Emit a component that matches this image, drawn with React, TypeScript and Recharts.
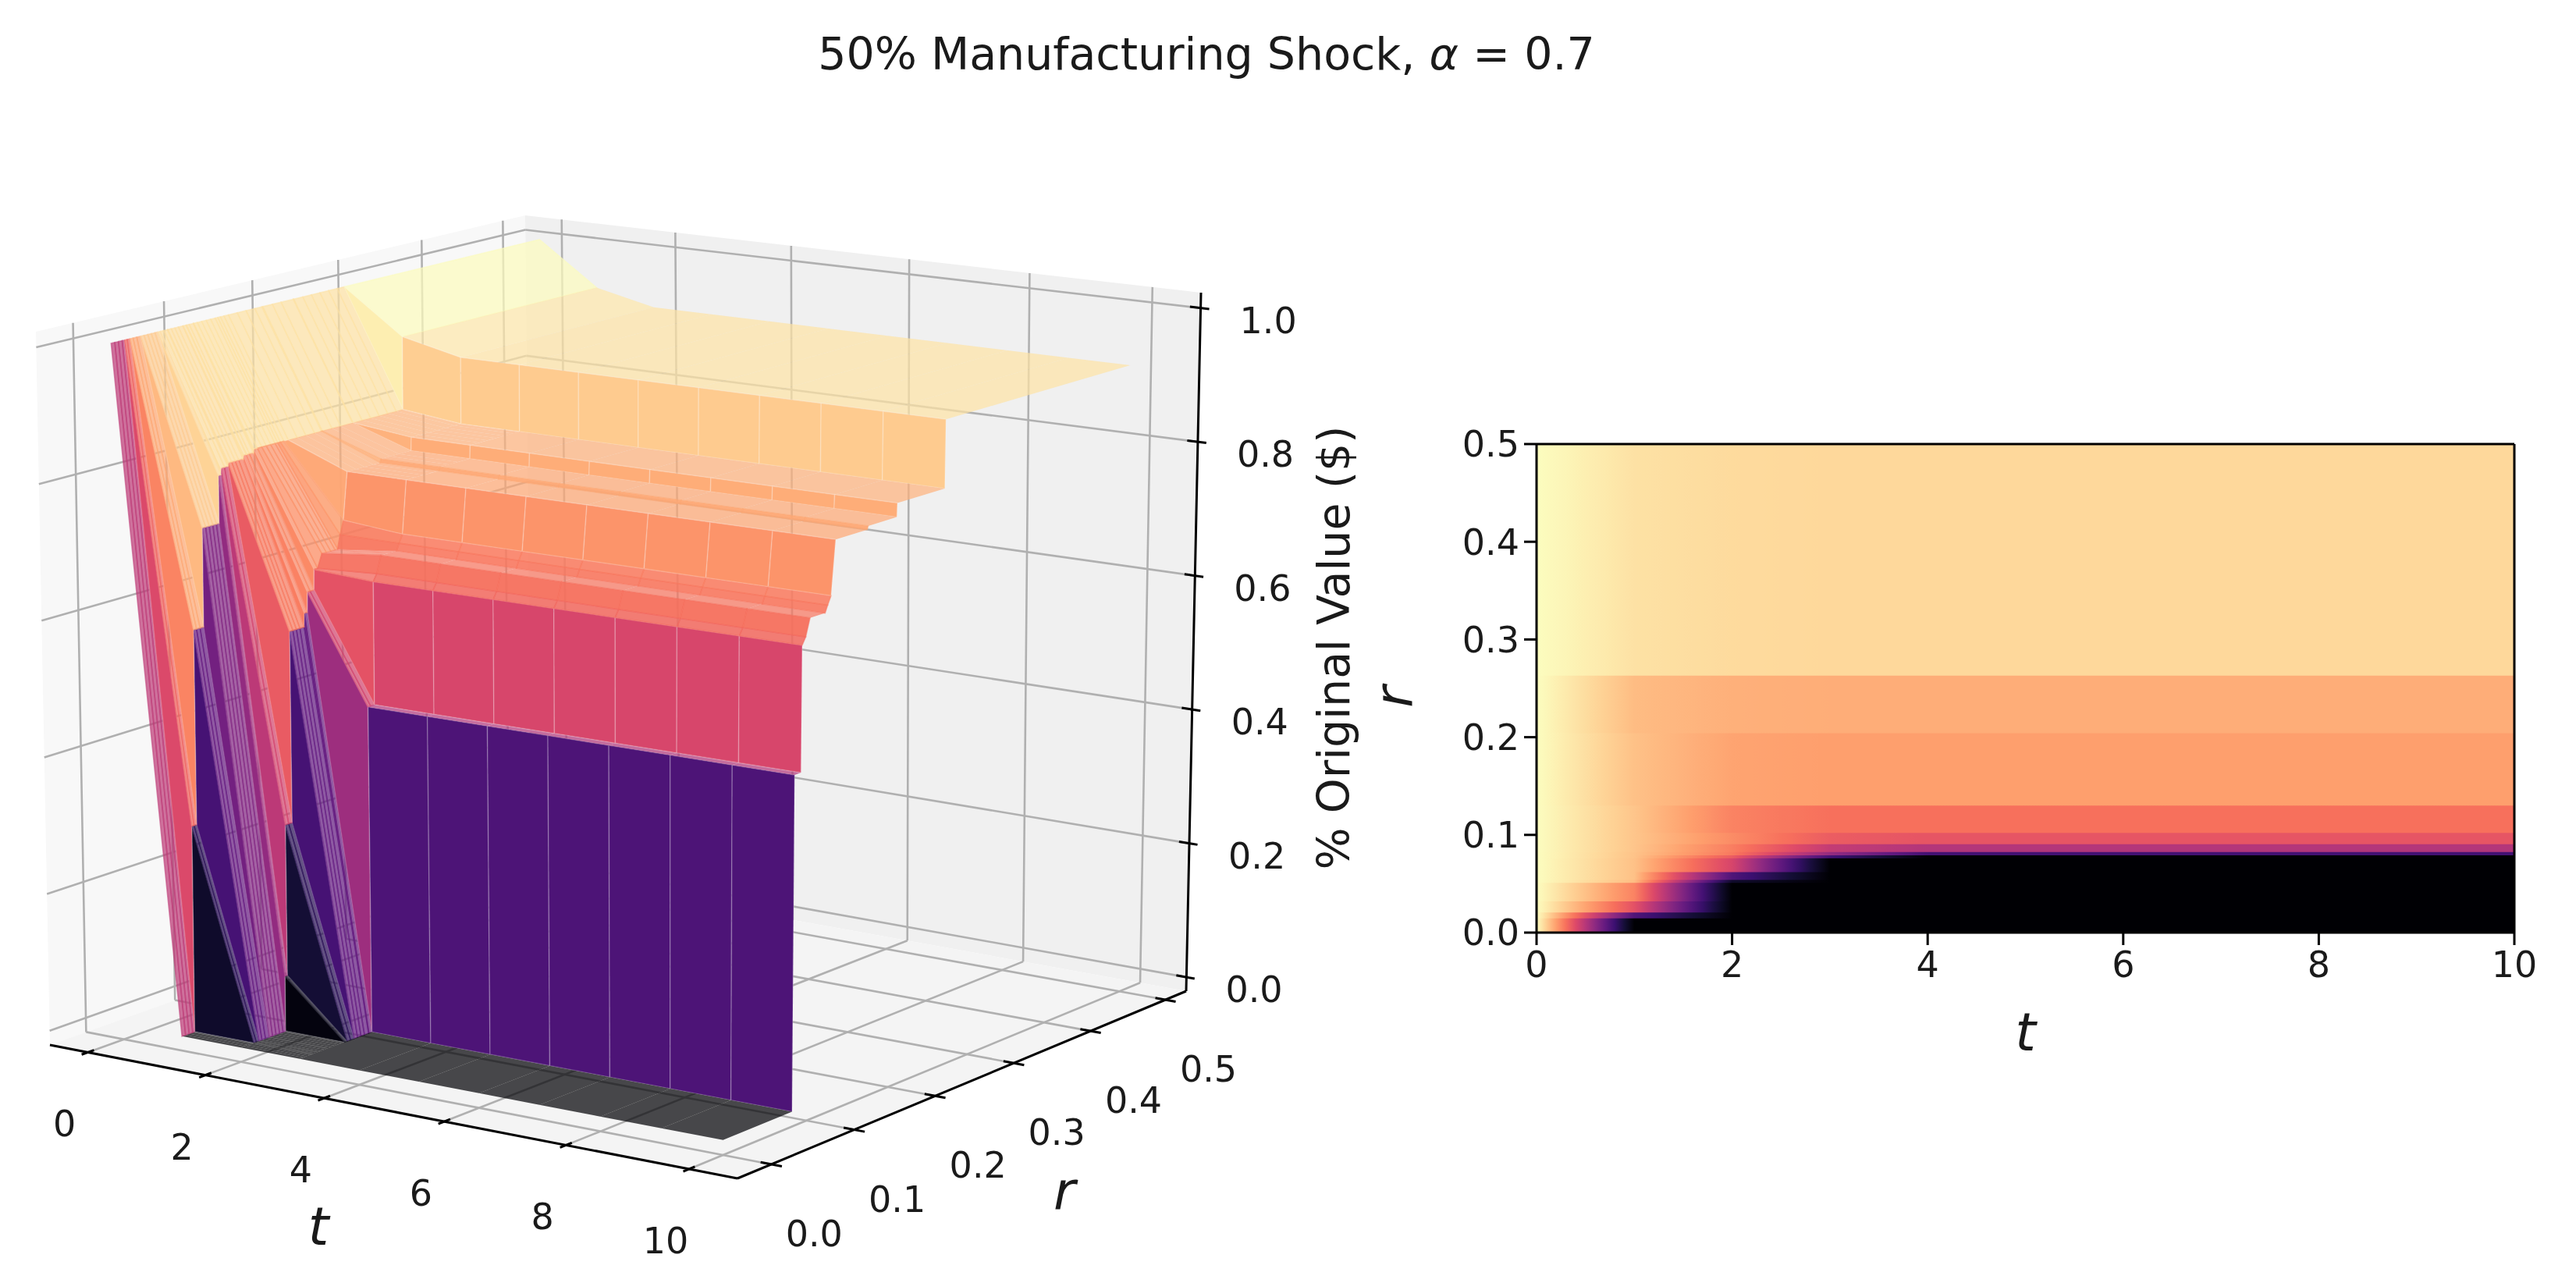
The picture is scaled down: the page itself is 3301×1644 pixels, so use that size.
import { Area, AreaChart, ReferenceLine, Scatter, ScatterChart, XAxis, YAxis } from 'recharts';

// ---- heatmap data ----
const tGrid = [0, 1, 2, 3, 4, 5, 6, 7, 8, 9, 10];
const rEdges = [0, 0.0146, 0.0205, 0.032, 0.051, 0.054, 0.062, 0.076, 0.079, 0.0825, 0.0905, 0.102, 0.13, 0.204, 0.263, 0.5];

const band00 = [1, 0, 0, 0, 0, 0, 0, 0, 0, 0, 0];
const band01 = [1, 0.25, 0, 0, 0, 0, 0, 0, 0, 0, 0];
const band02 = [1, 0.62, 0, 0, 0, 0, 0, 0, 0, 0, 0];
const band03 = [1, 0.74, 0, 0, 0, 0, 0, 0, 0, 0, 0];
const band04 = [1, 0.86, 0.08, 0, 0, 0, 0, 0, 0, 0, 0];
const band05 = [1, 0.87, 0.25, 0, 0, 0, 0, 0, 0, 0, 0];
const band06 = [1, 0.87, 0.58, 0, 0, 0, 0, 0, 0, 0, 0];
const band07 = [1, 0.875, 0.65, 0.22, 0, 0, 0, 0, 0, 0, 0];
const band08 = [1, 0.875, 0.72, 0.42, 0.22, 0.22, 0.22, 0.22, 0.22, 0.22, 0.22];
const band09 = [1, 0.88, 0.73, 0.53, 0.49, 0.49, 0.49, 0.49, 0.49, 0.49, 0.49];
const band10 = [1, 0.88, 0.76, 0.65, 0.63, 0.63, 0.63, 0.63, 0.63, 0.63, 0.63];
const band11 = [1, 0.88, 0.74, 0.7, 0.7, 0.7, 0.7, 0.7, 0.7, 0.7, 0.7];
const band12 = [1, 0.87, 0.81, 0.8, 0.8, 0.8, 0.8, 0.8, 0.8, 0.8, 0.8];
const band13 = [1, 0.86, 0.835, 0.83, 0.83, 0.83, 0.83, 0.83, 0.83, 0.83, 0.83];
const band14 = [1, 0.94, 0.925, 0.92, 0.92, 0.92, 0.92, 0.92, 0.92, 0.92, 0.92];
const bands = [band00, band01, band02, band03, band04, band05, band06, band07, band08, band09, band10, band11, band12, band13, band14];

// ---- surface rows: value at t=1, t=2 and from t=3 on (t=0 is 1) ----
const surfR = [0, 0.0142, 0.015, 0.0203, 0.0207, 0.0318, 0.0322, 0.0508, 0.0512, 0.0538, 0.0542, 0.0618, 0.0622, 0.0788, 0.0792, 0.0825, 0.0829, 0.0905, 0.0909, 0.095, 0.1, 0.118, 0.121, 0.125, 0.13, 0.168, 0.169, 0.204, 0.2045, 0.263, 0.2634, 0.5];
const surfT1 = [0, 0, 0.3, 0.3, 0.585, 0.585, 0.73, 0.73, 0.8, 0.8, 0.81, 0.81, 0.815, 0.815, 0.82, 0.82, 0.82, 0.82, 0.825, 0.825, 0.825, 0.825, 0.825, 0.825, 0.825, 0.825, 0.825, 0.825, 0.825, 0.825, 0.935, 0.935];
const surfT2 = [0, 0, 0, 0, 0, 0, 0, 0, 0.08, 0.08, 0.3, 0.3, 0.58, 0.58, 0.6, 0.6, 0.63, 0.63, 0.66, 0.66, 0.68, 0.68, 0.7, 0.72, 0.79, 0.79, 0.795, 0.795, 0.815, 0.815, 0.915, 0.915];
const surfPlateau = [0, 0, 0, 0, 0, 0, 0, 0, 0, 0, 0, 0, 0, 0, 0, 0, 0.475, 0.475, 0.655, 0.665, 0.69, 0.69, 0.7, 0.712, 0.79, 0.79, 0.795, 0.795, 0.815, 0.815, 0.915, 0.915];
// mesh lines of the plotted grid that fall inside the rows above
const meshR = [0.004, 0.008, 0.012, 0.0175, 0.024, 0.028, 0.036, 0.04, 0.044, 0.048, 0.058, 0.066, 0.07, 0.074, 0.086, 0.105, 0.11, 0.115, 0.14, 0.15, 0.16, 0.18, 0.19, 0.215, 0.225, 0.235, 0.245, 0.255];

const tTicks = [0, 2, 4, 6, 8, 10];
const rTicks = [0, 0.1, 0.2, 0.3, 0.4, 0.5];
const zTicks = [0, 0.2, 0.4, 0.6, 0.8, 1];

// ---- magma ----
const magmaHex = ['#000004', '#140e36', '#3b0f70', '#641a80', '#8c2981', '#b73779', '#de4968', '#f7705c', '#fe9f6d', '#fecf92', '#fcfdbf'];
const rgbOf = (h: string) => [1, 3, 5].map((i) => parseInt(h.slice(i, i + 2), 16));
function magma(v: number) {
  const p = Math.max(0, Math.min(0.9999, v)) * 10;
  const i = Math.floor(p);
  const a = rgbOf(magmaHex[i]);
  const b = rgbOf(magmaHex[i + 1]);
  const c = a.map((x, k) => Math.round(x + (b[k] - x) * (p - i)));
  return `rgb(${c[0]},${c[1]},${c[2]})`;
}
// surface faces run slightly hotter than their height
const surfaceColorGain = 1.03;

// ---- 3d box seen in perspective ----
type Pt = { x: number; y: number };
function squareToQuad(q: number[][]) {
  const [[x0, y0], [x1, y1], [x2, y2], [x3, y3]] = q;
  const sx = x0 - x1 + x2 - x3;
  const sy = y0 - y1 + y2 - y3;
  const dx1 = x1 - x2;
  const dx2 = x3 - x2;
  const dy1 = y1 - y2;
  const dy2 = y3 - y2;
  const det = dx1 * dy2 - dx2 * dy1;
  const g = (sx * dy2 - dx2 * sy) / det;
  const h = (dx1 * sy - sx * dy1) / det;
  const a = x1 - x0 + g * x1;
  const b = x3 - x0 + h * x3;
  const d = y1 - y0 + g * y1;
  const e = y3 - y0 + h * y3;
  return (u: number, v: number) => {
    const w = g * u + h * v + 1;
    return [(a * u + b * v + x0) / w, (d * u + e * v + y0) / w];
  };
}
const floorMap = squareToQuad([[64, 1339], [945, 1510], [1520, 1270], [681, 1118]]);
const topMap = squareToQuad([[46, 425], [950, 542], [1539, 375], [673, 276]]);

const tMin = -0.65;
const tMax = 10.78;
const rMin = -0.04;
const rMax = 0.528;
const toU = (t: number) => (t - tMin) / (tMax - tMin);
const toV = (r: number) => (r - rMin) / (rMax - rMin);
const toW = (z: number) => 0.02 + 0.958 * z;

function boxPoint(u: number, v: number, w: number): Pt {
  const f = floorMap(u, v);
  const c = topMap(u, v);
  return { x: f[0] + (c[0] - f[0]) * w, y: f[1] + (c[1] - f[1]) * w };
}
const project = (t: number, r: number, z: number) => boxPoint(toU(t), toV(r), toW(z));

type Poly = { pts: Pt[]; fill?: string; opacity?: number; stroke?: string; strokeOpacity?: number; strokeWidth?: number };

function meshSeries(name: string, polys: Poly[]) {
  const data = polys.flatMap((p) => p.pts);
  return (
    <Scatter
      key={name}
      name={name}
      data={data}
      isAnimationActive={false}
      shape={() => <g />}
      line={(props: any) => {
        let at = 0;
        return (
          <g>
            {polys.map((p, i) => {
              const pts = props.points.slice(at, at + p.pts.length);
              at += p.pts.length;
              const str = pts.map((q: Pt) => `${q.x},${q.y}`).join(' ');
              return (
                <polygon
                  key={i}
                  points={str}
                  fill={p.fill ?? 'none'}
                  fillOpacity={p.opacity ?? 1}
                  stroke={p.stroke ?? 'none'}
                  strokeOpacity={p.strokeOpacity ?? 1}
                  strokeWidth={p.strokeWidth ?? 1}
                />
              );
            })}
          </g>
        );
      }}
    />
  );
}

// panes, grid and axes of the box
const corner = (u: number, v: number, w: number) => boxPoint(u, v, w);
const panes: Poly[] = [
  { pts: [corner(0, 0, 0), corner(0, 1, 0), corner(0, 1, 1), corner(0, 0, 1)], fill: '#f8f8f8' },
  { pts: [corner(0, 1, 0), corner(1, 1, 0), corner(1, 1, 1), corner(0, 1, 1)], fill: '#f0f0f0' },
  { pts: [corner(0, 0, 0), corner(1, 0, 0), corner(1, 1, 0), corner(0, 1, 0)], fill: '#f4f4f4' },
];
const gridStyle = { stroke: '#b0b0b0', strokeWidth: 2.6 };
const gridLines: Poly[] = [
  ...tTicks.flatMap((t) => [
    { pts: [boxPoint(toU(t), 0, 0), boxPoint(toU(t), 1, 0)], ...gridStyle },
    { pts: [boxPoint(toU(t), 1, 0), boxPoint(toU(t), 1, 1)], ...gridStyle },
  ]),
  ...rTicks.flatMap((r) => [
    { pts: [boxPoint(0, toV(r), 0), boxPoint(1, toV(r), 0)], ...gridStyle },
    { pts: [boxPoint(0, toV(r), 0), boxPoint(0, toV(r), 1)], ...gridStyle },
  ]),
  ...zTicks.flatMap((z) => [
    { pts: [boxPoint(0, 0, toW(z)), boxPoint(0, 1, toW(z))], ...gridStyle },
    { pts: [boxPoint(0, 1, toW(z)), boxPoint(1, 1, toW(z))], ...gridStyle },
  ]),
];
const axisStyle = { stroke: '#000', strokeWidth: 3 };
const axisLines: Poly[] = [
  { pts: [corner(0, 0, 0), corner(1, 0, 0)], ...axisStyle },
  { pts: [corner(1, 0, 0), corner(1, 1, 0)], ...axisStyle },
  { pts: [corner(1, 1, 0), corner(1, 1, 1)], ...axisStyle },
  ...tTicks.map((t) => ({ pts: [boxPoint(toU(t), -0.012, 0), boxPoint(toU(t), 0.012, 0)], ...axisStyle })),
  ...rTicks.map((r) => ({ pts: [boxPoint(0.985, toV(r), 0), boxPoint(1.015, toV(r), 0)], ...axisStyle })),
  ...zTicks.map((z) => ({ pts: [boxPoint(0.985, 1, toW(z)), boxPoint(1.012, 1, toW(z))], ...axisStyle })),
];

// one value list per row; mesh lines copy the row they fall in
function rowAt(r: number) {
  let at = surfR.indexOf(r);
  if (at < 0) at = surfR.findIndex((x) => x > r) - 1;
  const vals = tGrid.map((t) => (t === 0 ? 1 : t === 1 ? surfT1[at] : t === 2 ? surfT2[at] : surfPlateau[at]));
  return { r, vals };
}
// fine rows for the slopes at t<3, only the real steps on the plateau
const fineRows = [...surfR, ...meshR].sort((a, b) => a - b).map(rowAt);
const plateauRows = surfR
  .filter((_, i) => i === 0 || i === surfR.length - 1 || surfPlateau[i] !== surfPlateau[i - 1] || surfPlateau[i] !== surfPlateau[i + 1])
  .map(rowAt);

function surfaceFaces(): Poly[] {
  const faces: { depth: number; poly: Poly }[] = [];
  const addFace = (a: { r: number; vals: number[] }, b: { r: number; vals: number[] }, k: number) => {
    const corners = [
      [tGrid[k], a.r, a.vals[k]],
      [tGrid[k + 1], a.r, a.vals[k + 1]],
      [tGrid[k + 1], b.r, b.vals[k + 1]],
      [tGrid[k], b.r, b.vals[k]],
    ];
    const box = corners.map(([t, r, z]) => [toU(t), toV(r), 0.75 * toW(z)]);
    const d1 = [0, 1, 2].map((i) => box[2][i] - box[0][i]);
    const d2 = [0, 1, 2].map((i) => box[3][i] - box[1][i]);
    const n = [
      d1[1] * d2[2] - d1[2] * d2[1],
      d1[2] * d2[0] - d1[0] * d2[2],
      d1[0] * d2[1] - d1[1] * d2[0],
    ];
    const len = Math.hypot(n[0], n[1], n[2]) || 1;
    const nr = n[1] / len;
    const nz = n[2] / len;
    const alpha = 1 - 0.29 * (1 - nr * nr);
    const mean = corners.reduce((s, c) => s + c[2], 0) / 4;
    const depth = box.reduce((s, p) => s + 0.47 * p[0] - 0.81 * p[1] + 0.34 * p[2], 0) / 4;
    const fill = magma(mean * surfaceColorGain);
    const wall = alpha > 0.95;
    const flat = Math.abs(nz) > 0.9;
    faces.push({
      depth,
      poly: {
        pts: corners.map(([t, r, z]) => project(t, r, z)),
        fill,
        opacity: alpha,
        stroke: wall ? '#fff' : flat ? 'none' : fill,
        strokeOpacity: wall ? 0.2 : 0.55,
        strokeWidth: 1.6,
      },
    });
  };
  for (let k = 0; k < tGrid.length - 1; k++) {
    const rows = k < 3 ? fineRows : plateauRows;
    for (let j = 0; j < rows.length - 1; j++) addFace(rows[j], rows[j + 1], k);
  }
  return faces.sort((x, y) => x.depth - y.depth).map((f) => f.poly);
}

// text placed from the projected tick positions
const font = 'DejaVu Sans';
const tickSize = 46;
type Lab = Pt & { text: string; size: number; anchor: string; rotate?: number; italic?: boolean };
const labels: Lab[] = [
  ...tTicks.map((t) => {
    const p = boxPoint(toU(t), 0, 0);
    return { x: p.x - 30, y: p.y + 92, text: String(t), size: tickSize, anchor: 'middle' };
  }),
  ...rTicks.map((r) => {
    const p = boxPoint(1, toV(r), 0);
    return { x: p.x + 55, y: p.y + 89, text: r.toFixed(1), size: tickSize, anchor: 'middle' };
  }),
  ...zTicks.map((z) => {
    const p = boxPoint(1, 1, toW(z));
    return { x: p.x + 50, y: p.y + 16, text: z.toFixed(1), size: tickSize, anchor: 'start' };
  }),
  { x: 408, y: 1571, text: 't', size: 68, anchor: 'middle', italic: true },
  { x: 1364, y: 1526, text: 'r', size: 68, anchor: 'middle', italic: true },
  { x: 1709, y: 830, text: '% Original Value ($)', size: 57, anchor: 'middle', rotate: -90 },
];

function LabelMark(props: any) {
  const p = props.payload as Lab;
  return (
    <text
      x={props.cx}
      y={props.cy}
      fontFamily={font}
      fontSize={p.size}
      fontStyle={p.italic ? 'italic' : 'normal'}
      textAnchor={p.anchor as any}
      dominantBaseline="central"
      fill="#1a1a1a"
      transform={p.rotate ? `rotate(${p.rotate} ${props.cx} ${props.cy})` : undefined}
    >
      {p.text}
    </text>
  );
}

// heatmap: each band is an area from 0 up to its top edge, painted top band first
const bandKey = (i: number) => `band${i}`;
const heatData = tGrid.map((t) => {
  const row: Record<string, number> = { t };
  bands.forEach((_, i) => {
    row[bandKey(i)] = rEdges[i + 1];
  });
  return row;
});

function bandGradient(vals: number[], i: number) {
  const stops: { at: number; v: number }[] = [];
  for (let k = 0; k < vals.length - 1; k++) {
    for (let s = 0; s < 10; s++) {
      stops.push({ at: (k + s / 10) / (vals.length - 1), v: vals[k] + ((vals[k + 1] - vals[k]) * s) / 10 });
    }
  }
  stops.push({ at: 1, v: vals[vals.length - 1] });
  return (
    <linearGradient key={i} id={`heat${i}`} x1="0" y1="0" x2="1" y2="0">
      {stops.map((s, n) => (
        <stop key={n} offset={s.at} stopColor={magma(s.v)} />
      ))}
    </linearGradient>
  );
}

const tickFont = { fontFamily: font, fontSize: tickSize, fill: '#1a1a1a' };
const paintOrder = bands.map((_, i) => bands.length - 1 - i);

export default function App() {
  return (
    <div style={{ position: 'absolute', left: 0, top: 0, width: 3301, height: 1644, background: '#fff', overflow: 'hidden', filter: 'blur(0.7px)' }}>
      <div style={{ position: 'absolute', left: 0, top: 34, width: 3092, textAlign: 'center', fontFamily: font, fontSize: 57, lineHeight: '70px', color: '#1a1a1a' }}>
        50% Manufacturing Shock, <i>α</i> = 0.7
      </div>

      <div style={{ position: 'absolute', left: 0, top: 0 }}>
        <ScatterChart width={1800} height={1644} margin={{ top: 0, right: 0, bottom: 0, left: 0 }}>
          <XAxis type="number" dataKey="x" domain={[0, 1800]} hide />
          <YAxis type="number" dataKey="y" domain={[0, 1644]} reversed hide />
          {meshSeries('panes', panes)}
          {meshSeries('grid', gridLines)}
          {meshSeries('axes', axisLines)}
          {meshSeries('surface', surfaceFaces())}
          <Scatter name="labels" data={labels} isAnimationActive={false} shape={LabelMark} />
        </ScatterChart>
      </div>

      <div style={{ position: 'absolute', left: 1700, top: 500 }}>
        <AreaChart width={1601} height={1000} data={heatData} margin={{ top: 69, right: 79, bottom: 155, left: 60 }}>
          <defs>{bands.map((b, i) => bandGradient(b, i))}</defs>
          <XAxis
            type="number"
            dataKey="t"
            domain={[0, 10]}
            ticks={tTicks}
            height={150}
            tick={tickFont}
            tickSize={16}
            tickMargin={8}
            axisLine={{ stroke: '#000', strokeWidth: 3 }}
            tickLine={{ stroke: '#000', strokeWidth: 3 }}
            label={{ value: 't', position: 'insideTop', offset: 103, style: { fontFamily: font, fontSize: 68, fontStyle: 'italic', fill: '#1a1a1a' } }}
          />
          <YAxis
            type="number"
            domain={[0, 0.5]}
            ticks={rTicks}
            width={209}
            tick={tickFont}
            tickSize={16}
            tickMargin={6}
            tickFormatter={(v: number) => v.toFixed(1)}
            axisLine={{ stroke: '#000', strokeWidth: 3 }}
            tickLine={{ stroke: '#000', strokeWidth: 3 }}
            label={{ value: 'r', angle: -90, position: 'insideLeft', offset: 26, dy: 25, style: { fontFamily: font, fontSize: 68, fontStyle: 'italic', fill: '#1a1a1a' } }}
          />
          {paintOrder.map((i) => (
            <Area
              key={i}
              dataKey={bandKey(i)}
              type="linear"
              fill={`url(#heat${i})`}
              fillOpacity={1}
              stroke="none"
              dot={false}
              activeDot={false}
              isAnimationActive={false}
            />
          ))}
          <ReferenceLine y={0.5} stroke="#000" strokeWidth={3} />
          <ReferenceLine x={10} stroke="#000" strokeWidth={3} />
        </AreaChart>
      </div>
    </div>
  );
}
